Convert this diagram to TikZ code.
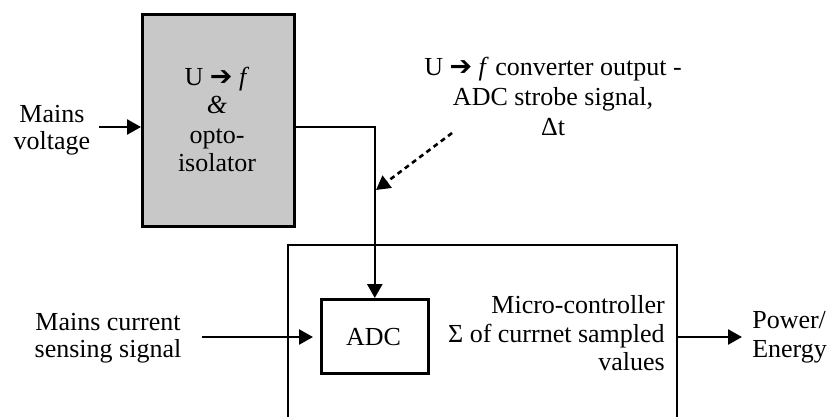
\documentclass[tikz,border=0pt]{standalone}
\usepackage{fontspec}
\setmainfont{Liberation Serif}
\newfontfamily\arrowfont{DejaVu Sans}
\usetikzlibrary{arrows.meta,calc}
\definecolor{boxgray}{RGB}{200,200,200}
\newcommand{\harrow}{{\arrowfont\bfseries\fontsize{27}{29}\selectfont ➔}}
\begin{document}
\begin{tikzpicture}[x=1pt,y=-1pt,
  line width=2.6pt,
  txt/.style={inner sep=0pt, font=\fontsize{26}{29}\selectfont},
  arr/.style={-{Triangle[length=14pt,width=15pt]}},
  darr/.style={-{Triangle[length=14pt,width=15pt]}, dash pattern=on 5pt off 4pt},
  blk/.style={draw, line width=2.6pt, inner sep=0pt, minimum width=0pt, minimum height=0pt}
]
\useasboundingbox (0,0) rectangle (827,416);

% blocks
\node[blk, fill=boxgray, minimum width=152pt, minimum height=212pt, anchor=north west] (uf) at (141,13) {};
\node[blk, minimum width=107pt, minimum height=74pt, anchor=north west] (adc) at (320,298) {};
\draw (288,420) -- (288,245) -- (677,245) -- (677,420);
\coordinate (mcuR) at (677,337);

% texts
\node[txt, anchor=base] (mv1) at (52,122) {Mains};
\node[txt, anchor=base] (mv2) at (52,149) {voltage};

\node[txt, anchor=base] (b1) at (217,85) {U \harrow\ \textit{f}};
\node[txt, anchor=base] (b2) at (217,113) {\textit{\&}};
\node[txt, anchor=base] (b3) at (217,143) {opto-};
\node[txt, anchor=base] (b4) at (217,171) {isolator};

\node[txt, anchor=base] (t1) at (553,75) {U \harrow\ \textit{f} converter output -};
\node[txt, anchor=base] (t2) at (553,105) {ADC strobe signal,};
\node[txt, anchor=base] (t3) at (553,135) {Δt};

\node[txt, anchor=base] (mc1) at (108,330) {Mains current};
\node[txt, anchor=base] (mc2) at (108,357) {sensing signal};

\node[txt, anchor=base] (adct) at (373.5,345) {ADC};

\node[txt, anchor=base east] (m1) at (666,313) {Micro-controller};
\node[txt, anchor=base east] (m2) at (666,342) {Σ of currnet sampled};
\node[txt, anchor=base east] (m3) at (666,370) {values};

\node[txt, anchor=base west] (p1) at (751,328) {Power/};
\node[txt, anchor=base west] (p2) at (751,357) {Energy};

% connectors
\coordinate (mvin) at (99,127);
\coordinate (mcin) at (202,337);
\coordinate (dstart) at (452,133);
\coordinate (dtip) at (376,190);
\coordinate (pout) at (742,337);

\draw[arr] (mvin) -- (mvin -| uf.west);
\draw[arr] (uf.east |- mvin) -- (adc.north |- mvin) -- (adc.north);
\draw[arr] (mcin) -- ([xshift=-7pt]mcin -| adc.west);
\draw[arr] (mcuR) -- (pout);
\draw[darr] (dstart) -- (dtip);
\end{tikzpicture}
\end{document}
